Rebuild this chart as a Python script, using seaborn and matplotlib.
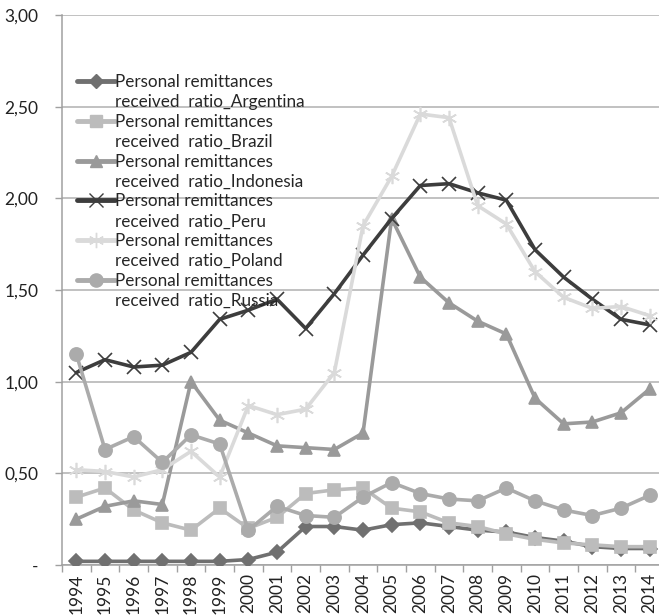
import matplotlib
matplotlib.use("Agg")
import matplotlib.pyplot as plt
from matplotlib.lines import Line2D
from matplotlib.ticker import FixedLocator
import numpy as np
import pandas as pd
import seaborn as sns

years = list(range(1994, 2015))

argentina = [0.02, 0.02, 0.02, 0.02, 0.02, 0.02, 0.03, 0.07, 0.21, 0.21, 0.19,
             0.22, 0.23, 0.21, 0.19, 0.18, 0.15, 0.13, 0.10, 0.09, 0.09]
brazil = [0.37, 0.42, 0.30, 0.23, 0.19, 0.31, 0.20, 0.26, 0.39, 0.41, 0.42,
          0.31, 0.29, 0.23, 0.21, 0.17, 0.14, 0.12, 0.11, 0.10, 0.10]
indonesia = [0.25, 0.32, 0.35, 0.33, 1.00, 0.79, 0.72, 0.65, 0.64, 0.63, 0.72,
             1.89, 1.57, 1.43, 1.33, 1.26, 0.91, 0.77, 0.78, 0.83, 0.96]
peru = [1.05, 1.12, 1.08, 1.09, 1.16, 1.34, 1.39, 1.45, 1.29, 1.48, 1.69,
        1.89, 2.07, 2.08, 2.03, 1.99, 1.72, 1.57, 1.45, 1.34, 1.31]
poland = [0.52, 0.51, 0.48, 0.52, 0.62, 0.48, 0.87, 0.82, 0.85, 1.05, 1.85,
          2.12, 2.46, 2.44, 1.96, 1.86, 1.60, 1.46, 1.40, 1.41, 1.36]
russia = [1.15, 0.63, 0.70, 0.56, 0.71, 0.66, 0.19, 0.32, 0.27, 0.26, 0.37,
          0.45, 0.39, 0.36, 0.35, 0.42, 0.35, 0.30, 0.27, 0.31, 0.38]

countries = ["Argentina", "Brazil", "Indonesia", "Peru", "Poland", "Russia"]
series = [argentina, brazil, indonesia, peru, poland, russia]

y_ticks = [0.0, 0.5, 1.0, 1.5, 2.0, 2.5, 3.0]
y_tick_labels = ["-", "0,50", "1,00", "1,50", "2,00", "2,50", "3,00"]

colors = {"Argentina": "#707070", "Brazil": "#bcbcbc", "Indonesia": "#9a9a9a",
          "Peru": "#3d3d3d", "Poland": "#dadada", "Russia": "#ababab"}
markers = {"Argentina": "D", "Brazil": "s", "Indonesia": "^",
           "Peru": "x", "Poland": (6, 2, 0), "Russia": "o"}
msizes = {"Argentina": 7.5, "Brazil": 8.5, "Indonesia": 9,
          "Peru": 10, "Poland": 11, "Russia": 9.5}

df = pd.DataFrame({
    "year": np.tile(years, len(countries)),
    "value": np.concatenate(series),
    "country": np.repeat(countries, len(years)),
})

sns.set_theme(style="white")
plt.rcParams["font.family"] = ["Lato", "DejaVu Sans"]

fig = plt.figure(figsize=(6.59, 6.16), dpi=100)
ax = fig.add_axes([62 / 659, 1 - 565 / 616, 602 / 659, 550 / 616])

for c in countries:
    sub = df[df["country"] == c]
    sns.lineplot(data=sub, x="year", y="value", ax=ax, color=colors[c],
                 marker=markers[c], markersize=msizes[c], linewidth=2.6,
                 markeredgecolor=colors[c], markeredgewidth=1.2,
                 markerfacecolor=colors[c], legend=False, zorder=3)

ax.set_xlim(1993.5, 2014.5)
ax.set_ylim(0, 3.0)
ax.set_yticks(y_ticks)
ax.set_yticklabels(y_tick_labels)
ax.set_xticks(years)
ax.set_xticklabels([str(y) for y in years], rotation=90)
ax.xaxis.set_minor_locator(FixedLocator(np.arange(1993.5, 2015, 1.0)))
ax.set_xlabel("")
ax.set_ylabel("")

ax.grid(axis="y", color="#b0b0b0", linewidth=1.1)
ax.grid(axis="x", visible=False)
for s in ["top", "right"]:
    ax.spines[s].set_visible(False)
ax.spines["left"].set_color("#a0a0a0")
ax.spines["bottom"].set_color("#a0a0a0")
ax.spines["left"].set_linewidth(1.1)
ax.spines["bottom"].set_linewidth(1.1)

ax.tick_params(axis="x", which="major", length=0, labelsize=12.5,
               labelcolor="#222222", pad=6)
ax.tick_params(axis="x", which="minor", length=5, width=1, color="#a0a0a0",
               direction="out", bottom=True)
ax.tick_params(axis="y", which="major", length=5, width=1, color="#a0a0a0",
               direction="out", left=True, labelsize=12.5,
               labelcolor="#222222", pad=12)

handles, labels = [], []
for c in countries:
    handles.append(Line2D([], [], color=colors[c], linewidth=3.5,
                          marker=markers[c], markersize=msizes[c],
                          markeredgecolor=colors[c], markerfacecolor=colors[c]))
    labels.append("Personal remittances")
    handles.append(Line2D([], [], linestyle="none"))
    labels.append("received  ratio_" + c)

ax.legend(handles, labels, loc="upper left", bbox_to_anchor=(0.025, 0.893),
          frameon=False, fontsize=12.3, handlelength=2.2, handletextpad=0.05,
          labelspacing=0.23, borderaxespad=0, borderpad=0)

fig.savefig("out.png", dpi=100)
